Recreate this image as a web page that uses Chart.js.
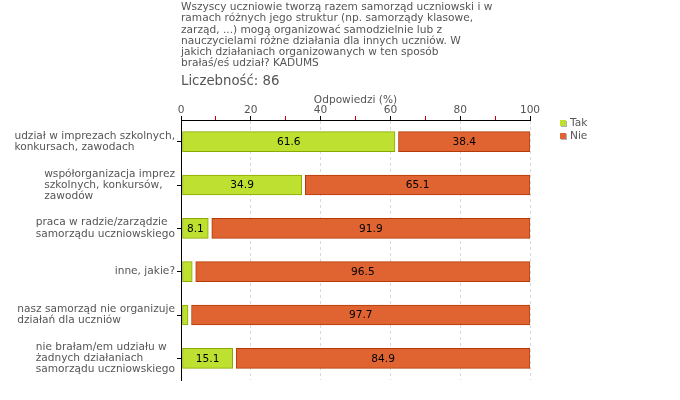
<!DOCTYPE html>
<html><head><meta charset="utf-8">
<script src="https://cdn.jsdelivr.net/npm/chart.js@4"></script>
<style>
html,body{margin:0;padding:0;background:#fff;}
#wrap{position:relative;width:680px;height:400px;overflow:hidden;}
canvas{position:absolute;left:0;top:0;}
.t{position:absolute;font-family:"DejaVu Sans";color:#555;white-space:nowrap;}
.li{position:relative;height:13px;line-height:13px;padding-left:10px;}
.sq{position:absolute;left:0;top:4px;width:6px;height:6px;box-shadow:1px 1px 0 #b0b0b0;}
</style></head><body>
<div id="wrap">
<canvas id="c" width="680" height="400"></canvas>
<div id="title" class="t" style="left:181px;top:1px;font-size:10.6px;line-height:11.3px;"></div>
<div id="count" class="t" style="left:181px;top:73px;font-size:13.3px;line-height:16px;"></div>
<div id="legend" class="t" style="left:560px;top:115.5px;font-size:10.6px;"></div>
</div>
<script>
const titleLines = [
  'Wszyscy uczniowie tworzą razem samorząd uczniowski i w',
  'ramach różnych jego struktur (np. samorządy klasowe,',
  'zarząd, ...) mogą organizować samodzielnie lub z',
  'nauczycielami różne działania dla innych uczniów. W',
  'jakich działaniach organizowanych w ten sposób',
  'brałaś/eś udział? KADUMS'
];
const countLabel = 'Liczebność: 86';
const axisTitle = 'Odpowiedzi (%)';
const categories = [
  ['udział w imprezach szkolnych,', 'konkursach, zawodach'],
  ['współorganizacja imprez', 'szkolnych, konkursów,', 'zawodów'],
  ['praca w radzie/zarządzie', 'samorządu uczniowskiego'],
  ['inne, jakie?'],
  ['nasz samorząd nie organizuje', 'działań dla uczniów'],
  ['nie brałam/em udziału w', 'żadnych działaniach', 'samorządu uczniowskiego']
];
const seriesNames = ['Tak', 'Nie'];
const takValues = [61.6, 34.9, 8.1, 3.5, 2.3, 15.1];
const nieValues = [38.4, 65.1, 91.9, 96.5, 97.7, 84.9];
const xTickLabels = [0, 20, 40, 60, 80, 100];
const colors = ['#BEE131', '#E06431'];
const borders = ['#8AA800', '#B43A06'];
const FS = 10.6;

document.getElementById('title').innerHTML = titleLines.join('<br>');
document.getElementById('count').textContent = countLabel;
document.getElementById('legend').innerHTML = seriesNames.map((n, i) =>
  '<div class="li"><span class="sq" style="background:' + colors[i] + '"></span>' + n + '</div>').join('');

const gapPlugin = {
  id: 'gap',
  afterDatasetsUpdate(chart) {
    chart.getDatasetMeta(0).data.forEach(el => { el.base += 1; el.x -= 1; });
    chart.getDatasetMeta(1).data.forEach(el => { el.base += 2.5; });
  }
};
const valuePlugin = {
  id: 'vals',
  afterDatasetsDraw(chart) {
    const ctx = chart.ctx;
    ctx.save();
    ctx.font = FS + 'px "DejaVu Sans"';
    ctx.fillStyle = '#000';
    ctx.textAlign = 'center';
    ctx.textBaseline = 'middle';
    chart.data.datasets.forEach((ds, di) => {
      chart.getDatasetMeta(di).data.forEach((el, i) => {
        if (Math.abs(el.x - el.base) < 20) return;
        ctx.fillText(ds.data[i].toFixed(1), (el.x + el.base) / 2, el.y + 0.5);
      });
    });
    ctx.restore();
  }
};
const yLabelPlugin = {
  id: 'ylabels',
  afterDraw(chart) {
    const ctx = chart.ctx, ys = chart.scales.y;
    ctx.save();
    ctx.font = FS + 'px "DejaVu Sans"';
    ctx.fillStyle = '#555';
    ctx.textAlign = 'left';
    ctx.textBaseline = 'middle';
    const lh = 11.2;
    categories.forEach((lines, i) => {
      const w = Math.max(...lines.map(l => ctx.measureText(l).width));
      const right = ys.right - 6;
      const yc = ys.getPixelForValue(i);
      lines.forEach((l, j) => ctx.fillText(l, right - w, yc + (j - (lines.length - 1) / 2) * lh));
    });
    ctx.restore();
  }
};

new Chart(document.getElementById('c'), {
  type: 'bar',
  data: {
    labels: categories,
    datasets: [
      { label: seriesNames[0], data: takValues, backgroundColor: colors[0], borderColor: borders[0], borderWidth: 1, borderSkipped: false, barThickness: 20 },
      { label: seriesNames[1], data: nieValues, backgroundColor: colors[1], borderColor: borders[1], borderWidth: 1, borderSkipped: false, barThickness: 20 }
    ]
  },
  plugins: [gapPlugin, valuePlugin, yLabelPlugin],
  options: {
    indexAxis: 'y',
    responsive: false,
    animation: false,
    events: [],
    layout: { padding: { left: 0, top: 0, right: 150, bottom: 20 } },
    plugins: { legend: { display: false }, tooltip: { enabled: false }, title: { display: false } },
    scales: {
      x: {
        position: 'top', stacked: true, min: 0, max: 100,
        afterFit: s => { s.height = 120; },
        title: { display: true, text: axisTitle, color: '#555', font: { family: 'DejaVu Sans', size: FS }, padding: { top: 93.5, bottom: 0 } },
        ticks: {
          stepSize: 10, padding: -1, color: '#555', font: { family: 'DejaVu Sans', size: FS },
          callback: v => xTickLabels.includes(v) ? String(v) : ''
        },
        grid: {
          drawTicks: true, tickLength: 4, lineWidth: 1,
          color: c => (c.tick && xTickLabels.includes(c.tick.value) && c.tick.value !== 0) ? '#d9d9d9' : 'rgba(0,0,0,0)',
          tickColor: c => (c.tick && xTickLabels.includes(c.tick.value)) ? '#000' : '#d00000'
        },
        border: { display: true, color: '#000', width: 1, dash: [3, 3] }
      },
      y: {
        stacked: true,
        afterFit: s => { s.width = 181; },
        ticks: { display: false },
        grid: { drawOnChartArea: false, drawTicks: true, tickLength: 4, tickColor: '#000', offset: false },
        border: { display: true, color: '#000', width: 1 }
      }
    }
  }
});
</script>
</body></html>
